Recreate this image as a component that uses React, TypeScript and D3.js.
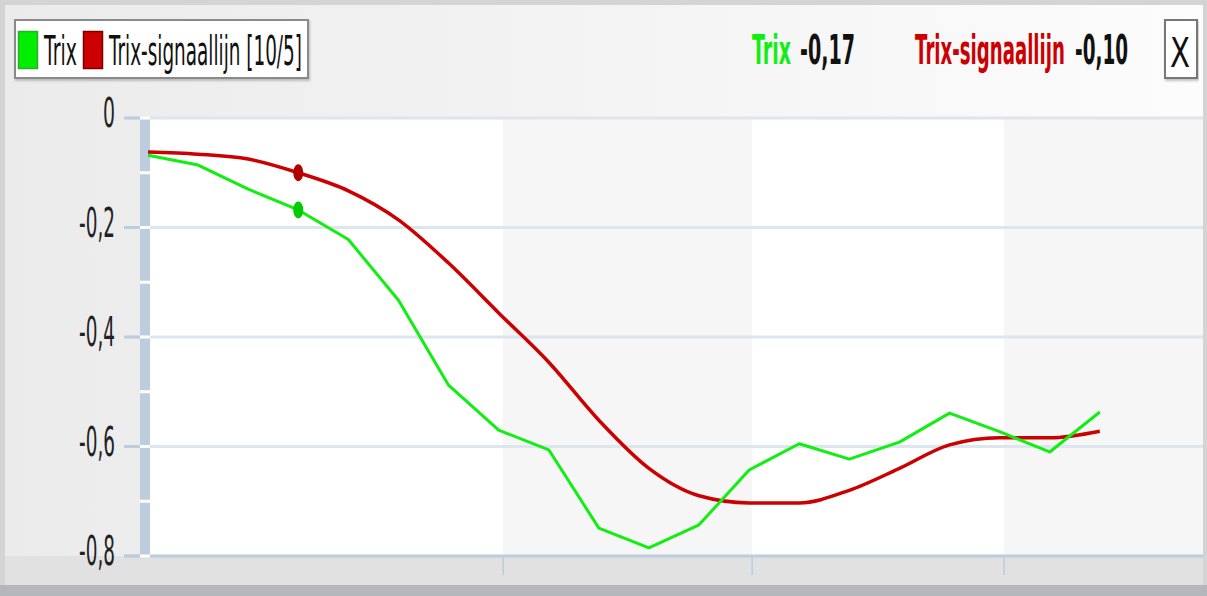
import React from 'react';
import * as d3 from 'd3';

// trix values per period
const trix = [-0.068, -0.086, -0.13, -0.168, -0.222, -0.333, -0.488, -0.57, -0.606, -0.749,
  -0.785, -0.743, -0.643, -0.595, -0.623, -0.592, -0.539, -0.573, -0.61, -0.537];
const signal = [-0.062, -0.066, -0.075, -0.1, -0.133, -0.186, -0.265, -0.356, -0.446, -0.552,
  -0.64, -0.69, -0.703, -0.703, -0.68, -0.64, -0.597, -0.584, -0.584, -0.572];
const yTicks = [0, -0.2, -0.4, -0.6, -0.8];
const yMinor = [-0.1, -0.3, -0.5, -0.7];
const xTicks = [7.09, 12.06, 17.09];
const markerIndex = 3;
const headerValues = ['-0,17', '-0,10'];

const W = 1207;
const H = 596;
const plot = { left: 148, right: 1203, top: 118, bottom: 556 };
const FONT = 'DejaVu Sans, sans-serif';

const fmt = (v: number) => (v === 0 ? '0' : d3.format('.1f')(v).replace('\u2212', '-').replace('.', ','));

// natural width of a string, so narrow text can be squeezed with a transform
let ctx: CanvasRenderingContext2D | null = null;
function measure(s: string, size: number, bold = false) {
  if (!ctx) ctx = document.createElement('canvas').getContext('2d');
  if (!ctx) return s.length * size * 0.6;
  ctx.font = `${bold ? 'bold ' : ''}${size}px ${FONT}`;
  return ctx.measureText(s).width;
}

// text squeezed horizontally to a given width; anchor at (x, y) baseline
function Narrow({ x, y, w, s, bold = false, fill = '#111', anchor = 'start', size = 41 }:
  { x: number; y: number; w: number; s: string; bold?: boolean; fill?: string; anchor?: string; size?: number }) {
  const k = w / measure(s, size, bold);
  return (
    <text transform={`translate(${x},${y}) scale(${k},1)`} textAnchor={anchor}
      fontFamily={FONT} fontSize={size} fontWeight={bold ? 'bold' : 'normal'} fill={fill}>{s}</text>
  );
}

export default function App() {
  const x = d3.scaleLinear().domain([0, 21.06]).range([plot.left, plot.right]);
  const y = d3.scaleLinear().domain([0, -0.8]).range([plot.top, plot.bottom]);

  const lineTrix = d3.line<number>().x((_, i) => x(i)).y(d => y(d));
  const lineSignal = d3.line<number>().x((_, i) => x(i)).y(d => y(d)).curve(d3.curveMonotoneX);

  // alternating background bands between x ticks
  const edges = [0, ...xTicks, 21.06];
  const bands = edges.slice(0, -1).map((s, i) => ({ x0: x(s), x1: x(edges[i + 1]), fill: i % 2 ? '#f6f6f6' : '#ffffff' }));

  return (
    <svg width={W} height={H} style={{ position: 'absolute', left: 0, top: 0 }}>
      <defs>
        <linearGradient id="bg" x1="0" x2="1" y1="0" y2="0">
          <stop offset="0" stopColor="#ebebeb" />
          <stop offset="1" stopColor="#fcfcfc" />
        </linearGradient>
        <filter id="sh" x="-5%" y="-10%" width="110%" height="130%">
          <feDropShadow dx="1" dy="2" stdDeviation="1" floodColor="#888" floodOpacity="0.5" />
        </filter>
      </defs>
      <rect x={0} y={0} width={W} height={H} fill="#d4d4d4" />
      <rect x={5} y={5} width={W - 9} height={580} fill="url(#bg)" />
      <rect x={0} y={585} width={W} height={11} fill="#b4b8bc" />
      <rect x={5} y={plot.bottom} width={W - 9} height={29} fill="#e1e1e1" />

      {/* plot background bands */}
      {bands.map((b, i) => (
        <rect key={i} x={b.x0} y={plot.top} width={b.x1 - b.x0} height={plot.bottom - plot.top} fill={b.fill} />
      ))}

      {/* gridlines + major ticks */}
      {yTicks.map(t => (
        <g key={t}>
          <line x1={124} x2={plot.right} y1={y(t)} y2={y(t)} stroke={t === -0.8 ? '#bccddd' : '#dde5ee'} strokeWidth={3} />
          <line x1={124} x2={140} y1={y(t)} y2={y(t)} stroke="#bccddd" strokeWidth={3} />
          <Narrow x={115} y={y(t) + 9} w={t === 0 ? 12 : 36} s={fmt(t)} anchor="end" fill="#222" />
        </g>
      ))}

      {/* y axis bar with breaks */}
      <rect x={140} y={plot.top} width={10} height={plot.bottom - plot.top} fill="#bccddd" />
      {[...yTicks, ...yMinor].map(t => (
        <rect key={'b' + t} x={140} y={y(t) - 1.5} width={10} height={3} fill="#ffffff" />
      ))}

      {/* x ticks */}
      {xTicks.map(t => (
        <line key={t} x1={x(t)} x2={x(t)} y1={plot.bottom} y2={575} stroke="#bccddd" strokeWidth={1.5} />
      ))}

      {/* series */}
      <path d={lineSignal(signal) || ''} fill="none" stroke="#cc0000" strokeWidth={3.5} strokeLinejoin="round" />
      <path d={lineTrix(trix) || ''} fill="none" stroke="#11ee11" strokeWidth={3} strokeLinejoin="round" />
      <ellipse cx={x(markerIndex)} cy={y(signal[markerIndex])} rx={5} ry={8.5} fill="#b00000" />
      <ellipse cx={x(markerIndex)} cy={y(trix[markerIndex])} rx={5} ry={8.5} fill="#00cc00" />

      {/* legend */}
      <rect x={15} y={20} width={293} height={58} fill="#ffffff" stroke="#8a8a8a" strokeWidth={2} filter="url(#sh)" />
      <rect x={18.5} y={31.5} width={19} height={37} fill="#00ee00" stroke="#33aa33" strokeWidth={1.5} />
      <Narrow x={44} y={65} w={33} s="Trix" />
      <rect x={83.5} y={31.5} width={19} height={37} fill="#cc0000" stroke="#7a0000" strokeWidth={1.5} />
      <Narrow x={109} y={65} w={193} s="Trix-signaallijn [10/5]" />

      {/* header values */}
      <Narrow x={752} y={64} w={39} s="Trix" bold fill="#11ee11" />
      <Narrow x={800} y={64} w={55} s={headerValues[0]} bold />
      <Narrow x={915} y={64} w={150} s="Trix-signaallijn" bold fill="#cc0000" />
      <Narrow x={1075} y={64} w={53} s={headerValues[1]} bold />

      {/* close button */}
      <rect x={1165} y={20} width={32} height={58} fill="#ffffff" stroke="#777" strokeWidth={2} filter="url(#sh)" />
      <Narrow x={1170} y={67} w={20} s="X" />
    </svg>
  );
}
